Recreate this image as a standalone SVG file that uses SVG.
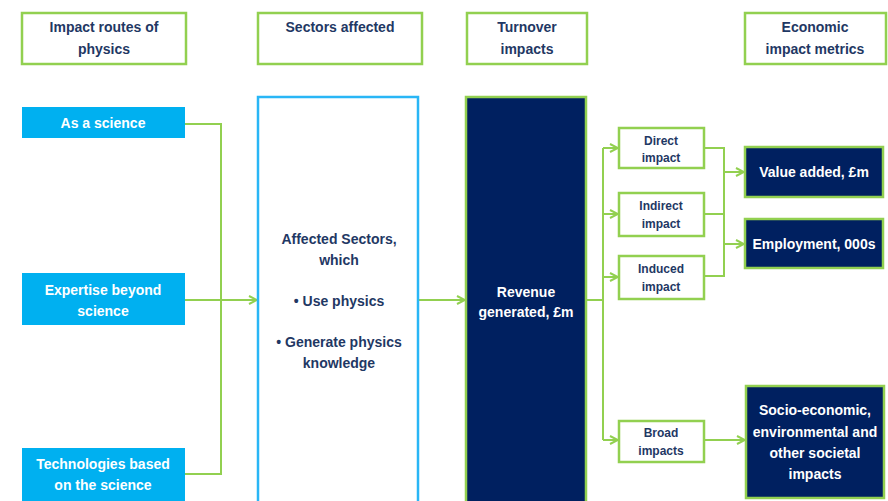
<svg xmlns="http://www.w3.org/2000/svg" width="888" height="501" viewBox="0 0 888 501">
<defs>
<marker id="arr" viewBox="0 0 10 10" refX="9" refY="5" markerWidth="10" markerHeight="10" markerUnits="userSpaceOnUse" orient="auto">
<polyline points="1,1 9,5 1,9" fill="none" stroke="#92D050" stroke-width="2"/>
</marker>
<style>
.hdr{fill:#ffffff;stroke:#92D050;stroke-width:2.5}
.blue{fill:#00B0F0}
.navy{fill:#002060;stroke:#92D050;stroke-width:2.5}
.small{fill:#ffffff;stroke:#92D050;stroke-width:2.5}
.t{font-family:"Liberation Sans",Arial,sans-serif;font-weight:bold;text-anchor:middle}
.th{font-size:14px;fill:#1F3864}
.tw{font-size:14px;fill:#ffffff}
.ts{font-size:12px;fill:#1F3864}
.c{fill:none;stroke:#92D050;stroke-width:2}
</style>
</defs>
<rect width="888" height="501" fill="#ffffff"/>
<g id="connectors">
<polyline class="c" points="185,124 221,124 221,474 185,474"/>
<line class="c" x1="185" y1="300" x2="257" y2="300" marker-end="url(#arr)" stroke-width="2.5"/>
<line class="c" x1="418" y1="300" x2="465" y2="300" marker-end="url(#arr)"/>
<polyline class="c" points="586,300 603,300"/>
<line class="c" x1="603" y1="148" x2="603" y2="440"/>
<line class="c" x1="603" y1="148" x2="618" y2="148" marker-end="url(#arr)"/>
<line class="c" x1="603" y1="214" x2="618" y2="214" marker-end="url(#arr)"/>
<line class="c" x1="603" y1="277" x2="618" y2="277" marker-end="url(#arr)"/>
<line class="c" x1="603" y1="440" x2="618" y2="440" marker-end="url(#arr)"/>
<polyline class="c" points="704,148 724,148 724,276 704,276"/>
<line class="c" x1="704" y1="214" x2="724" y2="214"/>
<line class="c" x1="724" y1="172" x2="744" y2="172" marker-end="url(#arr)"/>
<line class="c" x1="724" y1="244" x2="744" y2="244" marker-end="url(#arr)"/>
<line class="c" x1="704" y1="440" x2="745" y2="440" marker-end="url(#arr)"/>
</g>
<g id="hdr-routes"><rect class="hdr" x="22" y="13" width="164" height="51"/><text class="t th" x="104" y="32">Impact routes of</text><text class="t th" x="104" y="54">physics</text></g>
<g id="hdr-sectors"><rect class="hdr" x="258" y="13" width="164" height="51"/><text class="t th" x="340" y="32">Sectors affected</text></g>
<g id="hdr-turnover"><rect class="hdr" x="467" y="13" width="120" height="51"/><text class="t th" x="527" y="32">Turnover</text><text class="t th" x="527" y="54">impacts</text></g>
<g id="hdr-metrics"><rect class="hdr" x="745" y="13" width="141" height="51"/><text class="t th" x="815" y="32">Economic</text><text class="t th" x="815" y="54">impact metrics</text></g>
<g id="as-science"><rect class="blue" x="22" y="107" width="163" height="31"/><text class="t tw" x="103" y="128">As a science</text></g>
<g id="expertise"><rect class="blue" x="22" y="273" width="163" height="52"/><text class="t tw" x="103" y="295">Expertise beyond</text><text class="t tw" x="103" y="316">science</text></g>
<g id="technologies"><rect class="blue" x="22" y="448" width="163" height="60"/><text class="t tw" x="103" y="469">Technologies based</text><text class="t tw" x="103" y="490">on the science</text></g>
<g id="sectors"><rect x="258" y="97" width="160" height="420" fill="#ffffff" stroke="#29B6F6" stroke-width="2.5"/>
<text class="t th" x="339" y="244">Affected Sectors,</text><text class="t th" x="339" y="265">which</text>
<text class="t th" x="339" y="306">• Use physics</text>
<text class="t th" x="339" y="347">• Generate physics</text><text class="t th" x="339" y="368">knowledge</text></g>
<g id="revenue"><rect class="navy" x="466" y="97" width="120" height="420"/><text class="t tw" x="526" y="297">Revenue</text><text class="t tw" x="526" y="317">generated, £m</text></g>
<g id="direct"><rect class="small" x="619" y="128" width="85" height="40"/><text class="t ts" x="661" y="145">Direct</text><text class="t ts" x="661" y="162">impact</text></g>
<g id="indirect"><rect class="small" x="619" y="193" width="85" height="43"/><text class="t ts" x="661" y="210">Indirect</text><text class="t ts" x="661" y="228">impact</text></g>
<g id="induced"><rect class="small" x="619" y="256" width="85" height="43"/><text class="t ts" x="661" y="273">Induced</text><text class="t ts" x="661" y="291">impact</text></g>
<g id="broad"><rect class="small" x="619" y="421" width="85" height="41"/><text class="t ts" x="661" y="437">Broad</text><text class="t ts" x="661" y="455">impacts</text></g>
<g id="value-added"><rect class="navy" x="745" y="147" width="138" height="50"/><text class="t tw" x="814" y="177">Value added, £m</text></g>
<g id="employment"><rect class="navy" x="745" y="219" width="138" height="49"/><text class="t tw" x="814" y="249">Employment, 000s</text></g>
<g id="socio"><rect class="navy" x="746" y="386" width="138" height="112"/><text class="t tw" x="815" y="415">Socio-economic,</text><text class="t tw" x="815" y="437">environmental and</text><text class="t tw" x="815" y="458">other societal</text><text class="t tw" x="815" y="479">impacts</text></g>
</svg>
